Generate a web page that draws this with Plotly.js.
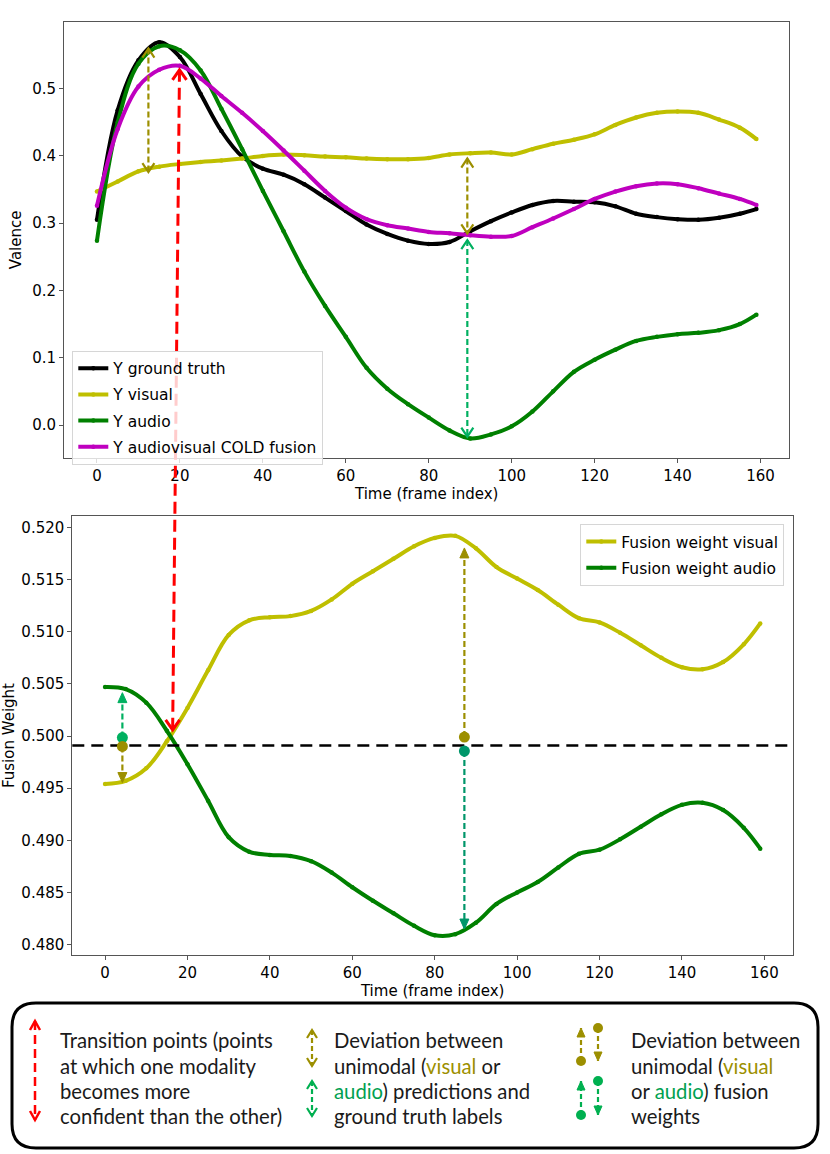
<!DOCTYPE html>
<html><head><meta charset="utf-8">
<script src="https://cdn.plot.ly/plotly-3.0.1.min.js"></script>
<style>html,body{margin:0;padding:0;background:#fff}</style>
</head><body><div id="chart" style="width:830px;height:1154px"></div>
<script>
// ---------------- data (every 5 frames) ----------------
const frames = [0,5,10,15,20,25,30,35,40,45,50,55,60,65,70,75,80,85,90,95,100,105,110,115,120,125,130,135,140,145,150,155,159];
const yGroundTruth = [0.305,0.468,0.542,0.569,0.547,0.492,0.437,0.399,0.381,0.372,0.358,0.338,0.318,0.298,0.284,0.274,0.269,0.272,0.288,0.303,0.316,0.327,0.333,0.332,0.331,0.325,0.314,0.309,0.306,0.305,0.308,0.314,0.321];
const yVisual = [0.347,0.362,0.377,0.384,0.388,0.391,0.393,0.396,0.400,0.402,0.401,0.399,0.398,0.396,0.395,0.395,0.397,0.402,0.404,0.405,0.402,0.410,0.418,0.424,0.432,0.446,0.457,0.464,0.466,0.464,0.454,0.442,0.425];
const yAudio = [0.274,0.450,0.537,0.563,0.557,0.527,0.470,0.410,0.348,0.288,0.228,0.177,0.131,0.085,0.054,0.031,0.011,-0.008,-0.020,-0.014,-0.002,0.020,0.050,0.079,0.097,0.112,0.125,0.131,0.135,0.137,0.141,0.150,0.164];
const yFusion = [0.326,0.440,0.503,0.528,0.534,0.515,0.489,0.464,0.437,0.408,0.378,0.348,0.323,0.306,0.297,0.292,0.287,0.285,0.282,0.280,0.281,0.294,0.307,0.321,0.336,0.347,0.355,0.359,0.358,0.352,0.344,0.336,0.327];
const wVisual = [0.4954,0.4957,0.4969,0.4995,0.5027,0.5063,0.5097,0.5111,0.5114,0.5115,0.5120,0.5131,0.5146,0.5158,0.5170,0.5182,0.5190,0.5192,0.5180,0.5162,0.5151,0.5140,0.5126,0.5113,0.5109,0.5099,0.5087,0.5075,0.5066,0.5064,0.5071,0.5088,0.5108];
const wAudio = [0.5047,0.5045,0.5032,0.5005,0.4973,0.4938,0.4903,0.4889,0.4886,0.4885,0.4880,0.4869,0.4855,0.4842,0.4830,0.4818,0.4809,0.4810,0.4821,0.4839,0.4850,0.4860,0.4874,0.4887,0.4891,0.4901,0.4913,0.4925,0.4934,0.4936,0.4929,0.4912,0.4892];
const thresholdLevel = 0.4991;

const xTicks = [0,20,40,60,80,100,120,140,160];
const valenceTicks = [0.0,0.1,0.2,0.3,0.4,0.5];
const weightTicks = [0.480,0.485,0.490,0.495,0.500,0.505,0.510,0.515,0.520];

const seriesNames = ['Y ground truth','Y visual','Y audio','Y audiovisual COLD fusion'];
const weightNames = ['Fusion weight visual','Fusion weight audio'];

// deviation / transition markers, in data coordinates
const devTop = [ // double arrows in the valence plot
  {t:12.4, a:0.5595, b:0.376, c:'olive'},
  {t:89.3, a:0.396, b:0.2847, c:'olive'},
  {t:89.3, a:0.2748, b:-0.0174, c:'green'}
];
const devBottom = [ // dot -> arrow in the fusion-weight plot
  {t:4.2, from:0.49985, to:0.50416, c:'green'},
  {t:4.2, from:0.4990, to:0.49554, c:'olive'},
  {t:87.2, from:0.4999, to:0.51804, c:'olive'},
  {t:87.2, from:0.49856, to:0.48149, c:'teal'}
];
const transitionTop = {t:19.9, v:0.528};
const transitionBottom = {t:16.4, v:0.5006};

const noteCol1 = ['Transition points (points','at which one modality','becomes more','confident than the other)'];
const noteCol2 = ['Deviation between','unimodal (<span style="color:#9c8f00">visual</span> or','<span style="color:#00a050">audio</span>) predictions and','ground truth labels'];
const noteCol3 = ['Deviation between','unimodal (<span style="color:#9c8f00">visual</span>','or <span style="color:#00a050">audio</span>) fusion','weights'];

// ---------------- layout geometry ----------------
const W=830,H=1154, M={l:64,r:37,t:22,b:199};
const PW=W-M.l-M.r, PH=H-M.t-M.b;
const X1_DOM=[0,0.995], X2_DOM=[0.0114,1], Y1_DOM=[0.533,1], Y2_DOM=[0,0.4705];
const X_RANGE=[-7.95,166.95], Y1_RANGE=[-0.0486,0.599], Y2_RANGE=[0.4790,0.5211];
const pxX = p => (p-M.l)/PW;
const pxY = p => (H-M.b-p)/PH;
const toPaper = (t,v,xd,yd,yr) => [xd[0]+(t-X_RANGE[0])/(X_RANGE[1]-X_RANGE[0])*(xd[1]-xd[0]), yd[0]+(v-yr[0])/(yr[1]-yr[0])*(yd[1]-yd[0])];

const COL = {olive:'#9c8f00', green:'#00b060', teal:'#00966a', red:'#ff0000', gbox:'#00b050'};
const FONT = 'DejaVu Sans';

const shapes = [];
const annotations = [];
function line(xref,yref,x0,y0,x1,y1,color,width,dash){
  shapes.push({type:'line',xref,yref,x0,y0,x1,y1,layer:'above',line:{color,width,dash}});
}
function chevron(xref,yref,x,y,up,color,width,hw,hh){
  const s = up ? -1 : 1;
  shapes.push({type:'path',xref,yref,xsizemode:'pixel',ysizemode:'pixel',xanchor:x,yanchor:y,layer:'above',
    path:`M${-hw},${s*hh}L0,0L${hw},${s*hh}`, line:{color,width}});
}
function tri(xref,yref,x,y,up,color,hw,hh){
  const s = up ? -1 : 1;
  shapes.push({type:'path',xref,yref,xsizemode:'pixel',ysizemode:'pixel',xanchor:x,yanchor:y,layer:'above',
    path:`M${-hw},${s*hh}L0,0L${hw},${s*hh}Z`, fillcolor:color, line:{color,width:1}});
}
function dot(xref,yref,x,y,color,r){
  shapes.push({type:'circle',xref,yref,xsizemode:'pixel',ysizemode:'pixel',xanchor:x,yanchor:y,layer:'above',
    x0:-r,x1:r,y0:-r,y1:r, fillcolor:color, line:{color,width:0}});
}

// threshold dashed line on bottom plot
line('x2 domain','y2',0,thresholdLevel,1,thresholdLevel,'#000',2.5,'12px,7px');

// top double arrows
devTop.forEach(d=>{
  const c = COL[d.c];
  line('x','y',d.t,d.a,d.t,d.b,c,2.2,'6px,3px');
  chevron('x','y',d.t,d.a,true,c,2.2,6,9);
  chevron('x','y',d.t,d.b,false,c,2.2,6,9);
});
// bottom dot arrows
devBottom.forEach(d=>{
  const c = COL[d.c], up = d.to>d.from;
  line('x2','y2',d.t,d.from,d.t,d.to,c,2.2,'6px,3px');
  tri('x2','y2',d.t,d.to,up,c,4.5,10);
  dot('x2','y2',d.t,d.from,c,5.5);
});
// red transition arrow spanning both plots
const pTop = toPaper(transitionTop.t,transitionTop.v,X1_DOM,Y1_DOM,Y1_RANGE);
const pBot = toPaper(transitionBottom.t,transitionBottom.v,X2_DOM,Y2_DOM,Y2_RANGE);
line('paper','paper',pTop[0],pTop[1],pBot[0],pBot[1],COL.red,3,'12px,6px');
chevron('x','y',transitionTop.t,transitionTop.v,true,COL.red,3,7,10);
chevron('x2','y2',transitionBottom.t,transitionBottom.v,false,COL.red,3,7,10);

// ---------------- explanation box ----------------
(function(){
  const L=12,R=818,T=1003,B=1148,r=24;
  const X=pxX, Y=pxY;
  const p = `M${X(L+r)},${Y(T)}L${X(R-r)},${Y(T)}Q${X(R)},${Y(T)} ${X(R)},${Y(T+r)}L${X(R)},${Y(B-r)}Q${X(R)},${Y(B)} ${X(R-r)},${Y(B)}L${X(L+r)},${Y(B)}Q${X(L)},${Y(B)} ${X(L)},${Y(B-r)}L${X(L)},${Y(T+r)}Q${X(L)},${Y(T)} ${X(L+r)},${Y(T)}Z`;
  shapes.push({type:'path',xref:'paper',yref:'paper',path:p,line:{color:'#000',width:3},fillcolor:'rgba(0,0,0,0)',layer:'above'});
  // red icon
  line('paper','paper',X(35),Y(1021),X(35),Y(1120),COL.red,2.5,'9px,5px');
  chevron('paper','paper',X(35),Y(1021),true,COL.red,2.5,5,9);
  chevron('paper','paper',X(35),Y(1120),false,COL.red,2.5,5,9);
  // olive / green double arrows
  [[COL.olive,1030,1066],[COL.gbox,1081,1116]].forEach(([c,a,b])=>{
    line('paper','paper',X(312),Y(a),X(312),Y(b),c,2.2,'5px,3px');
    chevron('paper','paper',X(312),Y(a),true,c,2.2,5,8);
    chevron('paper','paper',X(312),Y(b),false,c,2.2,5,8);
  });
  // dot arrows
  [[COL.olive,1028,1061],[COL.gbox,1081,1115]].forEach(([c,a,b])=>{
    line('paper','paper',X(581),Y(b),X(581),Y(a),c,2.2,'5px,3px');
    tri('paper','paper',X(581),Y(a),true,c,4,9);
    dot('paper','paper',X(581),Y(b),c,5);
    line('paper','paper',X(598),Y(a),X(598),Y(b),c,2.2,'5px,3px');
    tri('paper','paper',X(598),Y(b),false,c,4,9);
    dot('paper','paper',X(598),Y(a),c,5);
  });
  const rows=[1040,1066,1091,1116];
  [[noteCol1,58],[noteCol2,332],[noteCol3,629]].forEach(([col,x])=>{
    col.forEach((txt,i)=>annotations.push({xref:'paper',yref:'paper',x:X(x),y:Y(rows[i]),xanchor:'left',yanchor:'middle',
      showarrow:false,text:txt,font:{family:'Lato',size:20.3,color:'#1a1a1a'}}));
  });
})();

// ---------------- traces ----------------
function tr(y,name,color,xa,ya,leg){
  return {x:frames,y,name,type:'scatter',mode:'lines+markers',line:{color,width:4,shape:'spline',smoothing:1},
    marker:{color,size:4.5},xaxis:xa,yaxis:ya,legend:leg,legendgroup:name};
}
const data = [
  tr(yGroundTruth,seriesNames[0],'#000000','x','y','legend'),
  tr(yVisual,seriesNames[1],'#bfbf00','x','y','legend'),
  tr(yAudio,seriesNames[2],'#008000','x','y','legend'),
  tr(yFusion,seriesNames[3],'#bf00bf','x','y','legend'),
  tr(wVisual,weightNames[0],'#bfbf00','x2','y2','legend2'),
  tr(wAudio,weightNames[1],'#008000','x2','y2','legend2')
];

const axBase = {showline:true,mirror:true,linecolor:'#555',linewidth:1,ticks:'outside',ticklen:4,tickwidth:1,tickcolor:'#555',
  showgrid:false,zeroline:false,tickfont:{family:FONT,size:15,color:'#000'}};
const legBase = {bgcolor:'rgba(255,255,255,0.8)',bordercolor:'#d6d6d6',borderwidth:1,font:{family:FONT,size:15.5,color:'#000'},tracegroupgap:3};

const layout = {
  width:W,height:H,margin:M,paper_bgcolor:'#fff',plot_bgcolor:'#fff',showlegend:true,
  xaxis:Object.assign({},axBase,{domain:X1_DOM,range:X_RANGE,anchor:'y',tickvals:xTicks,automargin:true,
    title:{text:'Time (frame index)',font:{family:FONT,size:15,color:'#000'},standoff:3}}),
  yaxis:Object.assign({},axBase,{domain:Y1_DOM,range:Y1_RANGE,anchor:'x',tickvals:valenceTicks,tickformat:'.1f',automargin:true,
    title:{text:'Valence',font:{family:FONT,size:15,color:'#000'},standoff:6}}),
  xaxis2:Object.assign({},axBase,{domain:X2_DOM,range:X_RANGE,anchor:'y2',tickvals:xTicks,automargin:true,
    title:{text:'Time (frame index)',font:{family:FONT,size:15,color:'#000'},standoff:3}}),
  yaxis2:Object.assign({},axBase,{domain:Y2_DOM,range:Y2_RANGE,anchor:'x2',tickvals:weightTicks,tickformat:'.3f',
    title:{text:'Fusion Weight',font:{family:FONT,size:15,color:'#000'},standoff:4}}),
  legend:Object.assign({},legBase,{x:pxX(72.3),y:pxY(350.7),xanchor:'left',yanchor:'top'}),
  legend2:Object.assign({},legBase,{x:pxX(784.3),y:pxY(524),xanchor:'right',yanchor:'top'}),
  shapes,annotations
};
Plotly.newPlot('chart',data,layout,{staticPlot:true,displayModeBar:false});
</script></body></html>
